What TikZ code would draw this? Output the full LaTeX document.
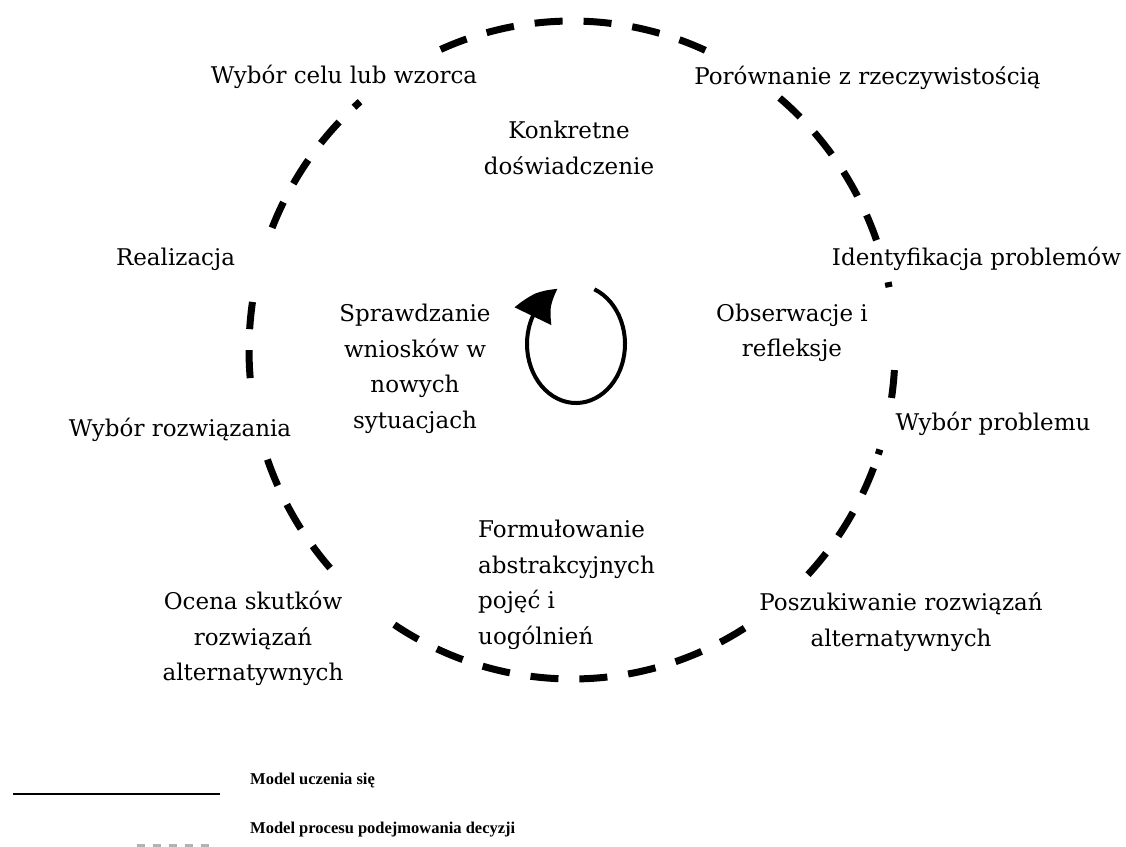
\documentclass[tikz,border=0pt]{standalone}
\usepackage{fontspec}
\setmainfont{DejaVu Serif}
\newfontfamily\legendfont{Liberation Serif}
\usetikzlibrary{arrows.meta,bending}

\begin{document}
\begin{tikzpicture}[x=1pt,y=1pt,
  lbl/.style={font=\fontsize{23}{35.5}\selectfont, inner sep=0pt, align=center},
  ring/.style={line width=7pt, dash pattern=on 28pt off 21pt, line cap=butt},
  loopline/.style={line width=4pt},
  legendtxt/.style={font=\legendfont\bfseries\fontsize{16.5}{18}\selectfont, inner sep=0pt, anchor=base west},
  legendline/.style={line width=1.5pt}
]
\useasboundingbox (0,0) rectangle (1126,-846);
\fill[white] (0,0) rectangle (1126,-846);

% centre of the decision cycle (dashed ring) and of the learning loop
\coordinate (C) at (572,-350);
\coordinate (L) at (576,-344);

% dashed ring of the decision process, broken where the labels sit
\foreach \a/\b in {114/65, 50/19.5, 11.9/11.0, -3.5/-8.4, -17.6/-18.5,
                   -21/-43.6, -57.7/-125.5, -138.5/-161.4, -175.1/-188.4, 158.2/131}
  \draw[ring] ([shift={(\a:323pt and 329pt)}]C)
      arc[start angle=\a, end angle=\b, x radius=323pt, y radius=329pt];

% learning loop with its arrow
\draw[loopline, -{Triangle[length=36pt,width=40pt,bend]}]
  ([shift={(68:49pt and 59pt)}]L)
  arc[start angle=68, end angle=-248, x radius=49pt, y radius=59pt];

% stages of the decision process
\node[lbl, anchor=base] (goal) at (344,-83) {Wybór celu lub wzorca};
\node[lbl, anchor=base] (compare) at (867.5,-84) {Porównanie z rzeczywistością};
\node[lbl, anchor=base] (identify) at (976.5,-265) {Identyfikacja problemów};
\node[lbl, anchor=base] (choosepb) at (993,-430) {Wybór problemu};
\node[lbl] (search) at (901,-622) {Poszukiwanie rozwiązań\\alternatywnych};
\node[lbl] (assess) at (253,-638.5) {Ocena skutków\\rozwiązań\\alternatywnych};
\node[lbl, anchor=base] (choosesol) at (180,-436) {Wybór rozwiązania};
\node[lbl, anchor=base] (realize) at (175.5,-265) {Realizacja};

% stages of the learning model
\node[lbl] (concrete) at (569,-148) {Konkretne\\doświadczenie};
\node[lbl] (observe) at (792,-333) {Obserwacje i\\refleksje};
\node[lbl, align=left, anchor=west] (abstract) at (478,-585) {Formułowanie\\abstrakcyjnych\\pojęć i\\uogólnień};
\node[lbl] (test) at (415,-369) {Sprawdzanie\\wniosków w\\nowych\\sytuacjach};

% legend
\coordinate (solidA) at (13,-794);
\coordinate (solidB) at (220,-794);
\draw[legendline] (solidA) -- (solidB);
\node[legendtxt] (legsolid) at (250,-784) {Model uczenia się};
\coordinate (dashA) at (137,-845.5);
\coordinate (dashB) at (215,-845.5);
\draw[line width=3pt, gray!60, dash pattern=on 8pt off 8pt] (dashA) -- (dashB);
\node[legendtxt] (legdash) at (250,-833) {Model procesu podejmowania decyzji};
\end{tikzpicture}
\end{document}
